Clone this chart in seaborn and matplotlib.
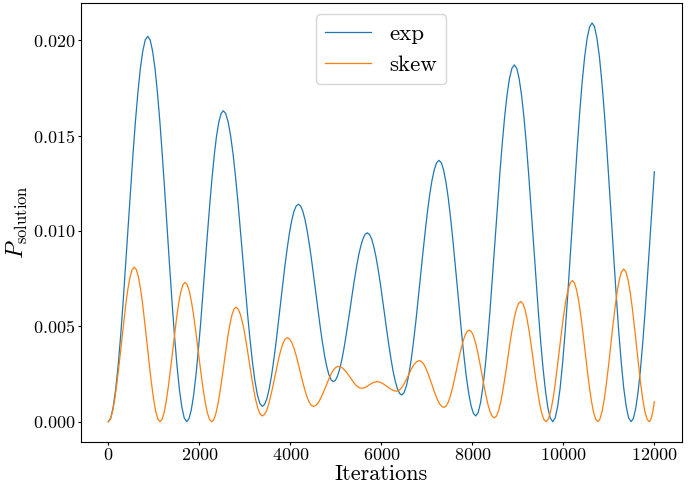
import pandas as pd
import seaborn as sns
import matplotlib.pyplot as plt

# values (one row per half-oscillation)
blue_x = [0,
          54, 108, 162, 217, 271, 325, 379, 433, 487, 541, 595, 650, 704, 758, 812, 866,
          920, 973, 1027, 1080, 1134, 1187, 1241, 1294, 1348, 1402, 1455, 1509, 1562, 1616, 1669, 1723,
          1773, 1824, 1874, 1924, 1974, 2025, 2075, 2125, 2175, 2226, 2276, 2326, 2376, 2427, 2477, 2527,
          2581, 2634, 2688, 2742, 2795, 2849, 2902, 2956, 3010, 3063, 3117, 3171, 3224, 3278, 3331, 3385,
          3434, 3484, 3533, 3583, 3632, 3682, 3731, 3781, 3830, 3879, 3929, 3978, 4028, 4077, 4127, 4176,
          4224, 4272, 4320, 4368, 4416, 4464, 4512, 4561, 4609, 4657, 4705, 4753, 4801, 4849, 4897, 4945,
          4992, 5038, 5085, 5132, 5178, 5225, 5272, 5319, 5365, 5412, 5459, 5505, 5552, 5599, 5645, 5692,
          5739, 5787, 5834, 5881, 5928, 5976, 6023, 6070, 6117, 6165, 6212, 6259, 6306, 6354, 6401, 6448,
          6499, 6551, 6602, 6653, 6704, 6756, 6807, 6858, 6909, 6961, 7012, 7063, 7114, 7166, 7217, 7268,
          7318, 7369, 7419, 7470, 7520, 7571, 7621, 7672, 7722, 7772, 7823, 7873, 7924, 7974, 8025, 8075,
          8128, 8181, 8234, 8287, 8340, 8393, 8446, 8499, 8552, 8605, 8658, 8711, 8764, 8817, 8870, 8923,
          8976, 9028, 9081, 9134, 9187, 9239, 9292, 9345, 9398, 9450, 9503, 9556, 9609, 9661, 9714, 9767,
          9821, 9875, 9929, 9983, 10037, 10091, 10145, 10199, 10253, 10307, 10361, 10415, 10469, 10523, 10577, 10631,
          10685, 10738, 10792, 10845, 10899, 10952, 11006, 11060, 11113, 11167, 11220, 11274, 11327, 11381, 11434, 11488,
          11539, 11590, 11642, 11693, 11744, 11795, 11846, 11898, 11949, 12000]
blue_y = [0,
          0.00019, 0.00077, 0.0017, 0.00296, 0.00449, 0.00624, 0.00813, 0.0101, 0.01207, 0.01396, 0.01571, 0.01724, 0.0185, 0.01943, 0.02001, 0.0202,
          0.02001, 0.01943, 0.0185, 0.01724, 0.01571, 0.01396, 0.01207, 0.0101, 0.00813, 0.00624, 0.00449, 0.00296, 0.0017, 0.00077, 0.00019, 0.0,
          0.00016, 0.00062, 0.00137, 0.00239, 0.00362, 0.00503, 0.00656, 0.00815, 0.00974, 0.01127, 0.01268, 0.01391, 0.01493, 0.01568, 0.01614, 0.0163,
          0.01615, 0.01571, 0.01499, 0.01403, 0.01286, 0.01152, 0.01006, 0.00855, 0.00704, 0.00558, 0.00424, 0.00307, 0.00211, 0.00139, 0.00095, 0.0008,
          0.0009, 0.0012, 0.00169, 0.00235, 0.00316, 0.00407, 0.00507, 0.0061, 0.00713, 0.00813, 0.00904, 0.00985, 0.01051, 0.011, 0.0113, 0.0114,
          0.01131, 0.01105, 0.01062, 0.01004, 0.00933, 0.00853, 0.00766, 0.00675, 0.00584, 0.00497, 0.00417, 0.00346, 0.00288, 0.00245, 0.00219, 0.0021,
          0.00217, 0.0024, 0.00276, 0.00324, 0.00383, 0.00451, 0.00524, 0.006, 0.00676, 0.00749, 0.00817, 0.00876, 0.00924, 0.0096, 0.00983, 0.0099,
          0.00982, 0.00958, 0.00918, 0.00866, 0.00801, 0.00728, 0.00648, 0.00565, 0.00482, 0.00402, 0.00329, 0.00264, 0.00212, 0.00172, 0.00148, 0.0014,
          0.00152, 0.00187, 0.00244, 0.0032, 0.00413, 0.0052, 0.00635, 0.00755, 0.00875, 0.0099, 0.01097, 0.0119, 0.01266, 0.01323, 0.01358, 0.0137,
          0.01357, 0.01319, 0.01257, 0.01174, 0.01072, 0.00956, 0.00831, 0.007, 0.00569, 0.00444, 0.00328, 0.00226, 0.00143, 0.00081, 0.00043, 0.0003,
          0.00048, 0.001, 0.00185, 0.00299, 0.00439, 0.00598, 0.00771, 0.0095, 0.01129, 0.01302, 0.01461, 0.01601, 0.01715, 0.018, 0.01852, 0.0187,
          0.01852, 0.01799, 0.01712, 0.01596, 0.01454, 0.01293, 0.01117, 0.00935, 0.00753, 0.00577, 0.00416, 0.00274, 0.00158, 0.00071, 0.00018, 0.0,
          0.0002, 0.0008, 0.00176, 0.00306, 0.00464, 0.00645, 0.00841, 0.01045, 0.01249, 0.01445, 0.01626, 0.01784, 0.01914, 0.0201, 0.0207, 0.0209,
          0.0207, 0.0201, 0.01914, 0.01784, 0.01626, 0.01445, 0.01249, 0.01045, 0.00841, 0.00645, 0.00464, 0.00306, 0.00176, 0.0008, 0.0002, 0.0,
          0.00017, 0.00069, 0.00156, 0.0027, 0.00411, 0.00572, 0.00749, 0.00937, 0.01126, 0.0131]

orange_x = [0,
            48, 95, 143, 190, 238, 286, 333, 381, 428, 476, 523, 571,
            618, 665, 712, 759, 806, 854, 901, 948, 995, 1042, 1089, 1136,
            1182, 1228, 1273, 1319, 1365, 1411, 1457, 1503, 1548, 1594, 1640, 1686,
            1735, 1784, 1832, 1881, 1930, 1979, 2028, 2077, 2125, 2174, 2223, 2272,
            2317, 2361, 2406, 2450, 2495, 2540, 2584, 2629, 2673, 2718, 2762, 2807,
            2855, 2903, 2952, 3000, 3048, 3096, 3144, 3192, 3240, 3289, 3337, 3385,
            3431, 3477, 3522, 3568, 3614, 3660, 3705, 3751, 3797, 3843, 3888, 3934,
            3982, 4029, 4077, 4124, 4172, 4220, 4267, 4315, 4362, 4410, 4457, 4505,
            4551, 4597, 4642, 4688, 4734, 4780, 4826, 4872, 4917, 4963, 5009, 5055,
            5098, 5141, 5183, 5226, 5269, 5312, 5355, 5398, 5440, 5483, 5526, 5569,
            5624, 5679, 5734, 5789, 5844, 5899,
            5972, 6045, 6119, 6192, 6265, 6338,
            6379, 6421, 6462, 6504, 6545, 6587, 6628, 6669, 6711, 6752, 6794, 6835,
            6880, 6926, 6971, 7016, 7061, 7107, 7152, 7197, 7242, 7288, 7333, 7378,
            7424, 7471, 7517, 7563, 7610, 7656, 7702, 7749, 7795, 7841, 7888, 7934,
            7980, 8026, 8071, 8117, 8163, 8209, 8255, 8301, 8346, 8392, 8438, 8484,
            8532, 8581, 8629, 8677, 8726, 8774, 8822, 8871, 8919, 8967, 9016, 9064,
            9110, 9157, 9203, 9249, 9296, 9342, 9388, 9435, 9481, 9527, 9574, 9620,
            9668, 9716, 9765, 9813, 9861, 9909, 9957, 10005, 10053, 10102, 10150, 10198,
            10245, 10291, 10338, 10384, 10431, 10477, 10524, 10570, 10617, 10663, 10710, 10756,
            10804, 10851, 10899, 10946, 10994, 11042, 11089, 11137, 11184, 11232, 11279, 11327,
            11373, 11420, 11466, 11513, 11559, 11606, 11652, 11698, 11745, 11791, 11838, 11884,
            11913, 11942, 11971, 12000]
orange_y = [0,
            0.00014, 0.00054, 0.00119, 0.00203, 0.003, 0.00405, 0.0051, 0.00608, 0.00691, 0.00756, 0.00796, 0.0081,
            0.00796, 0.00756, 0.00691, 0.00608, 0.0051, 0.00405, 0.003, 0.00203, 0.00119, 0.00054, 0.00014, 0.0,
            0.00012, 0.00049, 0.00107, 0.00183, 0.00271, 0.00365, 0.00459, 0.00548, 0.00623, 0.00681, 0.00718, 0.0073,
            0.00718, 0.00681, 0.00623, 0.00548, 0.00459, 0.00365, 0.00271, 0.00183, 0.00107, 0.00049, 0.00012, 0.0,
            0.0001, 0.0004, 0.00088, 0.0015, 0.00222, 0.003, 0.00378, 0.0045, 0.00512, 0.0056, 0.0059, 0.006,
            0.0059, 0.00562, 0.00517, 0.00458, 0.00389, 0.00315, 0.00241, 0.00173, 0.00113, 0.00068, 0.0004, 0.0003,
            0.00037, 0.00057, 0.0009, 0.00133, 0.00182, 0.00235, 0.00288, 0.00338, 0.0038, 0.00413, 0.00433, 0.0044,
            0.00434, 0.00416, 0.00387, 0.0035, 0.00307, 0.0026, 0.00213, 0.0017, 0.00133, 0.00104, 0.00086, 0.0008,
            0.00084, 0.00094, 0.00111, 0.00133, 0.00158, 0.00185, 0.00212, 0.00238, 0.00259, 0.00276, 0.00286, 0.0029,
            0.00288, 0.00282, 0.00273, 0.00261, 0.00247, 0.00233, 0.00218, 0.00204, 0.00192, 0.00183, 0.00177, 0.00175,
            0.00177, 0.00184, 0.00193, 0.00201, 0.00207, 0.0021,
            0.00207, 0.00198, 0.00185, 0.00173, 0.00163, 0.0016,
            0.00163, 0.00171, 0.00183, 0.002, 0.00219, 0.0024, 0.00261, 0.0028, 0.00297, 0.00309, 0.00317, 0.0032,
            0.00316, 0.00304, 0.00284, 0.00259, 0.00229, 0.00198, 0.00166, 0.00136, 0.00111, 0.00091, 0.00079, 0.00075,
            0.00082, 0.00102, 0.00134, 0.00176, 0.00225, 0.00278, 0.0033, 0.00379, 0.00421, 0.00453, 0.00473, 0.0048,
            0.00472, 0.00449, 0.00413, 0.00365, 0.0031, 0.0025, 0.0019, 0.00135, 0.00087, 0.00051, 0.00028, 0.0002,
            0.0003, 0.00061, 0.00109, 0.00173, 0.00246, 0.00325, 0.00404, 0.00478, 0.00541, 0.00589, 0.0062, 0.0063,
            0.00619, 0.00588, 0.00538, 0.00473, 0.00397, 0.00315, 0.00233, 0.00158, 0.00092, 0.00042, 0.00011, 0.0,
            0.00013, 0.0005, 0.00108, 0.00185, 0.00274, 0.0037, 0.00466, 0.00555, 0.00632, 0.0069, 0.00727, 0.0074,
            0.00727, 0.0069, 0.00632, 0.00555, 0.00466, 0.0037, 0.00274, 0.00185, 0.00108, 0.0005, 0.00013, 0.0,
            0.00014, 0.00054, 0.00117, 0.002, 0.00296, 0.004, 0.00504, 0.006, 0.00683, 0.00746, 0.00786, 0.008,
            0.00786, 0.00746, 0.00683, 0.006, 0.00504, 0.004, 0.00296, 0.002, 0.00117, 0.00054, 0.00014, 0.0,
            0.00007, 0.00027, 0.0006, 0.00105]

labels = ['exp', 'skew']

# latex-like look
plt.rcParams['font.family'] = 'serif'
plt.rcParams['font.serif'] = ['cmr10']
plt.rcParams['mathtext.fontset'] = 'cm'
plt.rcParams['axes.formatter.use_mathtext'] = True

df_exp = pd.DataFrame({'Iterations': blue_x, 'P': blue_y})
df_skew = pd.DataFrame({'Iterations': orange_x, 'P': orange_y})

fig, ax = plt.subplots(figsize=(6.97, 4.87), dpi=100)
sns.lineplot(data=df_exp, x='Iterations', y='P', color='C0', linewidth=0.9,
             label=labels[0], estimator=None, ax=ax)
sns.lineplot(data=df_skew, x='Iterations', y='P', color='C1', linewidth=0.9,
             label=labels[1], estimator=None, ax=ax)

ax.set_xlabel('Iterations', fontsize=16, labelpad=1)
ax.set_ylabel(r'$P_{\mathrm{solution}}$', fontsize=17, labelpad=2)
ax.tick_params(labelsize=13, length=2.5, pad=1.5)
ax.legend(loc='upper center', fontsize=16.5)

plt.subplots_adjust(left=0.1162, right=0.978, top=0.9938, bottom=0.0932)
plt.savefig('out.png', dpi=100)
